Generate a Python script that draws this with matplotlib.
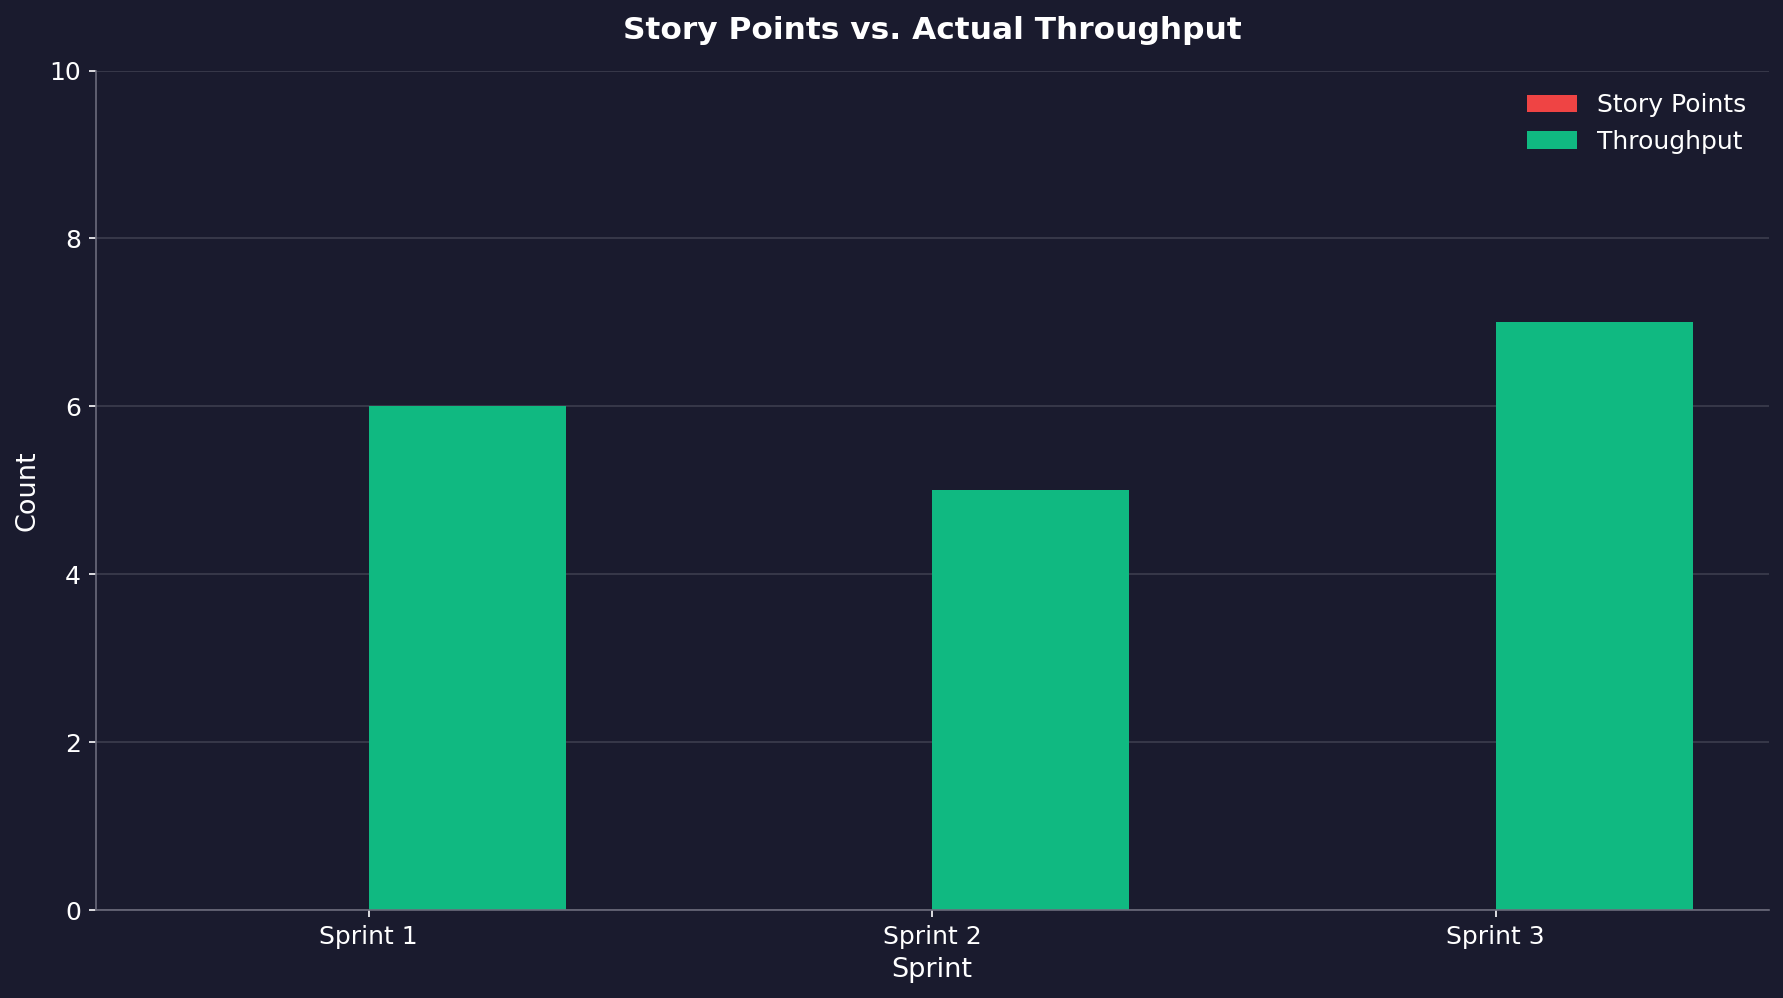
"""Story points vs. actual throughput per sprint."""

import matplotlib
matplotlib.use("Agg")
import matplotlib.pyplot as plt
import numpy as np

sprints = ["Sprint 1", "Sprint 2", "Sprint 3"]
story_points = [0, 0, 0]
throughput = [6, 5, 7]

BG = "#1a1b2e"
TEXT = "#ffffff"
RED = "#ef4444"
GREEN = "#10b981"


def main():
    fig, ax = plt.subplots(figsize=(1783 / 150, 998 / 150), dpi=150)
    fig.patch.set_facecolor(BG)
    ax.set_facecolor(BG)

    x = np.arange(len(sprints))
    width = 0.35
    ax.bar(x - width / 2, story_points, width, color=RED, label="Story Points")
    ax.bar(x + width / 2, throughput, width, color=GREEN, label="Throughput")

    ax.set_xticks(x)
    ax.set_xticklabels(sprints)
    ax.set_ylim(0, 10)
    ax.set_xlabel("Sprint", color=TEXT, fontsize=13, labelpad=4)
    ax.set_ylabel("Count", color=TEXT, fontsize=13)
    ax.set_title("Story Points vs. Actual Throughput", color=TEXT,
                 fontsize=15, fontweight="bold", pad=15)

    ax.tick_params(colors=TEXT, labelsize=12)
    for side in ("top", "right"):
        ax.spines[side].set_visible(False)
    for side in ("left", "bottom"):
        ax.spines[side].set_color("#6b6b7b")
    ax.grid(True, axis="y", color="#ffffff", alpha=0.15, linewidth=0.8)
    ax.set_axisbelow(True)

    leg = ax.legend(frameon=False, fontsize=12)
    for t in leg.get_texts():
        t.set_color(TEXT)

    fig.subplots_adjust(left=95.5 / 1783, right=1769 / 1783,
                        top=1 - 70.5 / 998, bottom=1 - 910 / 998)
    fig.savefig("out.png", facecolor=BG)


if __name__ == "__main__":
    main()
